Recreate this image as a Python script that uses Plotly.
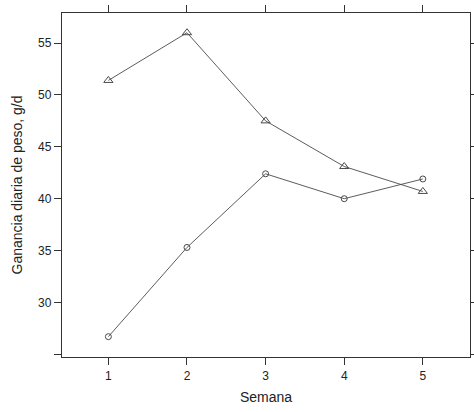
import plotly.graph_objects as go

# Weekly average daily weight gain for two groups
semana = [1, 2, 3, 4, 5]
grupo_triangulo = [51.4, 56.0, 47.5, 43.1, 40.7]
grupo_circulo = [26.7, 35.3, 42.4, 40.0, 41.9]

y_ticks = [25, 30, 35, 40, 45, 50, 55]
y_ticktext = ["", "30", "35", "40", "45", "50", "55"]
x_ticks = [1, 2, 3, 4, 5]

line_color = "#4a4a4a"
font_family = "Liberation Sans, Arial, sans-serif"

fig = go.Figure()
fig.add_trace(go.Scatter(
    x=semana, y=grupo_triangulo, mode="lines+markers",
    line=dict(color=line_color, width=0.9),
    marker=dict(symbol="triangle-up-open", size=8, color=line_color,
                line=dict(width=1, color=line_color)),
    showlegend=False,
))
fig.add_trace(go.Scatter(
    x=semana, y=grupo_circulo, mode="lines+markers",
    line=dict(color=line_color, width=0.9),
    marker=dict(symbol="circle-open", size=6, color=line_color,
                line=dict(width=1, color=line_color)),
    showlegend=False,
))

axis_common = dict(
    showline=True, linecolor="#333333", linewidth=1.3, mirror="allticks",
    ticks="outside", ticklen=7, tickwidth=1.2, tickcolor="#333333",
    showgrid=False, zeroline=False, automargin=False,
    tickfont=dict(family=font_family, size=12, color="#222222"),
)

fig.update_layout(
    width=474, height=412,
    margin=dict(l=62, r=4, t=13, b=55),
    paper_bgcolor="white", plot_bgcolor="white",
    xaxis=dict(
        range=[0.41, 5.6], tickvals=x_ticks,
        title=dict(text="Semana", standoff=10,
                   font=dict(family=font_family, size=14, color="#222222")),
        **axis_common,
    ),
    yaxis=dict(
        range=[24.74, 57.9], tickvals=y_ticks, ticktext=y_ticktext,
        title=dict(text="Ganancia diaria de peso, g/d", standoff=12,
                   font=dict(family=font_family, size=14, color="#222222")),
        **axis_common,
    ),
)

fig.write_html("out.html")
